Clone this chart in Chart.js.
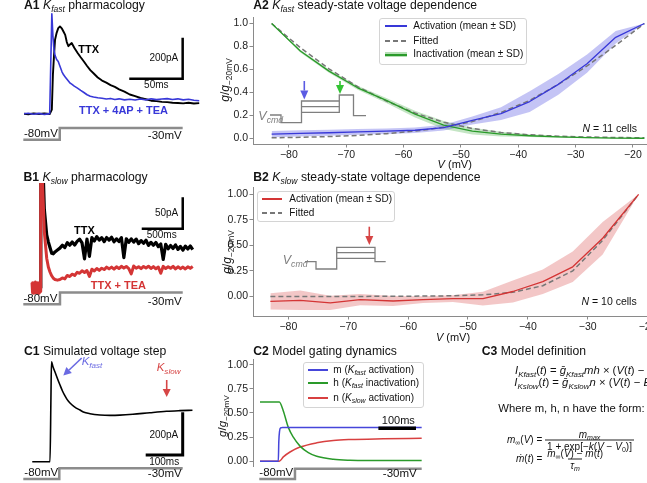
<!DOCTYPE html>
<html>
<head>
<meta charset="utf-8">
<title>Kfast / Kslow currents</title>
<script src="https://cdn.jsdelivr.net/npm/chart.js@4.4.1/dist/chart.umd.min.js"></script>
<style>
  html, body { margin: 0; padding: 0; background: #fff; overflow: hidden; }
  body { position: relative; width: 647px; height: 483px; font-family: "Liberation Sans", Arial, sans-serif; color: #111; }
  canvas { position: absolute; }
  .t { position: absolute; white-space: nowrap; line-height: 1; }
  sub { font-size: 70%; vertical-align: -0.32em; line-height: 0; }
  .box { position: absolute; box-sizing: border-box; border: 1px solid #d4d4d4; border-radius: 3px; background: rgba(255,255,255,0.85); }
  .ln { position: absolute; }
  .fr { display: inline-flex; flex-direction: column; align-items: center; vertical-align: middle; }
  .fr > span { padding: 0 2px; line-height: 1.1; }
  .fr > span + span { border-top: 0.8px solid #222; }
</style>
</head>
<body>
<script>
// ---------- data ----------

// A1: Kfast pharmacology, time (ms) / current (pA)
const a1Time  = [1, 5, 10, 15, 20, 25, 27, 28, 29, 30, 31.5, 33, 34.6, 36.5, 38, 39.5, 41, 42.5, 44, 45.6, 48, 51, 54, 57, 60, 63, 66, 70, 74, 78, 82, 86, 90, 95, 100, 105, 110, 115, 120, 125, 130, 135, 140, 145, 150, 155, 160, 165];
const a1TTX   = [0, -2, 2, -1, 2, -1, 20, 190, 280, 361, 395, 418, 426, 415, 400, 385, 350, 330, 338, 345, 322, 298, 276, 255, 233, 213, 198, 177, 162, 152, 140, 131, 119, 108, 94, 86, 77, 71, 64, 62, 58, 57, 54, 53, 51, 54, 50, 52];
const a1Block = [0, 3, -2, 2, -3, 1, 488, 380, 312, 285, 265, 255, 232, 205, 190, 180, 170, 160, 150, 145, 135, 125, 114, 104, 93, 86, 82, 78, 76, 72, 75, 70, 73, 68, 71, 67, 72, 68, 73, 69, 72, 74, 70, 73, 68, 71, 66, 64];
const a1StepTime = [0.3, 34.4, 34.4, 149.5];

// B1: Kslow pharmacology
const b1PreTime = [110, 117, 124, 131, 138, 145, 152, 159, 166, 173, 180, 187, 194, 201, 208, 214];
const b1PreRed  = [8, -8, 7, -9, 8, -7, 9, -8, 7, -8, 8, -9, 7, -8, 8, -6];
const b1Time = [216, 217, 240, 260, 289, 309, 329, 350, 370, 390, 420, 450,
  480, 510, 540, 570, 600, 630, 660, 690, 720, 750, 780, 810, 840, 870, 900, 930, 960, 990,
  1020, 1050, 1080, 1110, 1140, 1170, 1200, 1230, 1260, 1290, 1320, 1350, 1380, 1410, 1440, 1470,
  1500, 1530, 1560, 1590, 1620, 1650, 1680, 1710, 1740, 1770, 1800, 1830, 1860, 1890, 1920, 1950,
  1980, 2010, 2040, 2070];
const b1TTX = [0, 330, 210, 125, 84, 73, 64, 55, 54, 57, 60, 63,
  67.7, 63.9, 71.6, 67.7, 72.8, 67.9, 73.8, 77.4, 71.3, 46, 77.4, 50, 79.8, 74.3, 81.4, 75.7, 79.8, 73.4,
  79.9, 75.7, 80.3, 73.2, 77.8, 73.6, 79.7, 48, 77.9, 72.2, 77.8, 72.5, 77.4, 70.2, 75, 70.8,
  75.6, 67.4, 72.2, 67.5, 72.1, 65.4, 69.6, 45, 69.2, 61.9, 67.3, 62.5, 68.1, 61, 65.8, 59.7,
  66.3, 61.5, 66.4, 60.5];
const b1Red = [0, 330, 160, 89, 47, 33, 25, 19, 15, 13, 12, 13,
  15.5, 14, 19.5, 17.8, 21.5, 19.5, 24.5, 23, 27, 24.3, 27.3, 18, 29.5, 26.7, 30.5, 27.6, 31, 28.9,
  32.7, 30, 32.8, 29.6, 33.3, 30.5, 34.1, 31.2, 33.8, 30.4, 22, 34.5, 31, 33.4, 30.4, 33.8,
  31.3, 34.2, 30.7, 33.6, 30.1, 33, 23, 34, 30.5, 33.4, 30.9, 33.9, 29.9, 33.3, 30.3, 32.8,
  29.8, 33.3, 30.8, 33.8];
const b1StepTime = [3.7, 451, 451, 1948];

// C1: simulated voltage step
const c1Time    = [25, 73, 75.5, 77, 81, 86.5, 93, 100, 107, 113.5, 119, 127, 140, 154, 163, 181, 208, 235, 262, 297, 343, 388, 424, 458];
const c1Current = [0, 0, 300, 468, 445, 420, 390, 359, 330, 308, 292, 275, 256, 242, 233, 225, 219, 217, 218, 222, 229.5, 236, 239, 241];
const c1StepTime = [0.8, 98.1, 98.1, 431.6];

const stepVolt = [-80, -80, -30, -30];

// A2: Kfast steady-state, V (mV) / g/g-20mV
const vA2 = [-83, -78, -73, -68, -63, -58, -53, -48, -43, -38, -33, -28, -23, -18];
const a2ActMean   = [0.036, 0.042, 0.048, 0.055, 0.062, 0.07, 0.092, 0.155, 0.215, 0.32, 0.47, 0.65, 0.88, 1.0];
const a2ActSD     = [0.028, 0.027, 0.026, 0.025, 0.024, 0.024, 0.025, 0.035, 0.055, 0.09, 0.09, 0.08, 0.055, 0.0];
const a2ActFit    = [0.004, 0.008, 0.015, 0.025, 0.04, 0.062, 0.095, 0.145, 0.225, 0.33, 0.47, 0.63, 0.81, 1.0];
const a2InactMean = [1.0, 0.76, 0.585, 0.44, 0.33, 0.21, 0.115, 0.062, 0.036, 0.022, 0.012, 0.006, 0.002, 0.0];
const a2InactSD   = [0.0, 0.012, 0.015, 0.018, 0.022, 0.03, 0.035, 0.03, 0.02, 0.012, 0.008, 0.005, 0.003, 0.0];
const a2InactFit  = [1.0, 0.79, 0.605, 0.45, 0.325, 0.22, 0.14, 0.085, 0.05, 0.03, 0.018, 0.011, 0.007, 0.004];

// B2: Kslow steady-state
const vB2 = [-83, -78, -73, -68, -62.5, -57.5, -52.5, -47.5, -42.5, -37.5, -32.5, -27.5, -21.5];
const b2Mean = [-0.048, -0.038, -0.064, -0.032, -0.045, -0.032, -0.022, -0.022, 0.048, 0.144, 0.29, 0.57, 1.0];
const b2SD   = [0.08, 0.095, 0.07, 0.055, 0.05, 0.033, 0.033, 0.067, 0.107, 0.12, 0.15, 0.16, 0.0];
const b2Fit  = [0, 0, 0, 0, 0.001, 0.003, 0.006, 0.015, 0.04, 0.105, 0.25, 0.55, 1.0];

// C2: model gating variables, time (ms)
const c2mTime = [0, 48.7, 50, 52, 55, 60, 430];
const c2m     = [0, 0, 0.2, 0.31, 0.345, 0.35, 0.35];
const c2hTime = [0, 51.3, 62, 75.3, 88.6, 106.4, 128.5, 150.8, 195, 239.4, 300, 430];
const c2h     = [0.612, 0.612, 0.52, 0.35, 0.248, 0.156, 0.089, 0.051, 0.02, 0.01, 0.007, 0.006];
const c2nTime = [0, 51.3, 62, 79.8, 106.4, 150.8, 195, 239.4, 328, 430];
const c2n     = [0, 0, 0.044, 0.095, 0.146, 0.19, 0.214, 0.224, 0.232, 0.238];
const c2StepTime = [-1.9, 93, 93, 430];

// tick labels
const vTicks = [-80, -70, -60, -50, -40, -30, -20];
const a2YTicks = [0, 0.2, 0.4, 0.6, 0.8, 1.0];
const qTicks = [0, 0.25, 0.5, 0.75, 1.0];

// ---------- helpers ----------
const FONT = '"Liberation Sans", Arial, sans-serif';
Chart.defaults.font.family = FONT;
Chart.defaults.color = '#222';

const BLUE = '#3838d8', GREEN = '#2a9a2a', RED = '#d43535', GREY = '#8c8c8c', SPINE = '#8a8a8a';

const pts = (xs, ys) => xs.map((x, i) => ({x: x, y: ys[i]}));

function box(left, top, w, h) {
  const c = document.createElement('canvas');
  c.width = w; c.height = h;
  c.style.left = left + 'px'; c.style.top = top + 'px';
  document.body.appendChild(c);
  return c;
}

// axis range from one reference value, its pixel row and pixels per unit
function vRange(ref, refPx, perUnit, top, bottom) {
  return {min: ref - (bottom - refPx) / perUnit, max: ref + (refPx - top) / perUnit};
}

const minus = (v, d) => (v < 0 ? '\u2212' : '') + Math.abs(v).toFixed(d);

// black scale bar drawn in data units
const scaleBar = {
  id: 'scaleBar',
  afterDatasetsDraw(chart, args, o) {
    if (!o || o.x === undefined) return;
    const {ctx, scales: {x, y}} = chart;
    ctx.save();
    ctx.strokeStyle = '#000';
    ctx.lineWidth = o.width;
    ctx.lineJoin = 'miter';
    ctx.beginPath();
    ctx.moveTo(x.getPixelForValue(o.x - o.dx), y.getPixelForValue(o.y));
    ctx.lineTo(x.getPixelForValue(o.x), y.getPixelForValue(o.y));
    if (o.dy) ctx.lineTo(x.getPixelForValue(o.x), y.getPixelForValue(o.y + o.dy));
    ctx.stroke();
    ctx.restore();
  }
};

function line(data, color, w, extra) {
  return Object.assign({data: data, borderColor: color, borderWidth: w, pointRadius: 0, fill: false, order: 0, borderJoinStyle: 'round'}, extra || {});
}
function dashed(data) {
  return {data: data, borderColor: '#777', borderWidth: 1.5, borderDash: [5, 3], pointRadius: 0, fill: false, order: 1};
}
function band(xs, mean, sd, color) {
  return [
    {data: pts(xs, mean.map((m, i) => m - sd[i])), borderWidth: 0, pointRadius: 0, fill: false, order: 2},
    {data: pts(xs, mean.map((m, i) => m + sd[i])), borderWidth: 0, pointRadius: 0, fill: '-1', backgroundColor: color, order: 2}
  ];
}
function step(times, yAxis) {
  return {data: pts(times, stepVolt), yAxisID: yAxis, borderColor: GREY, borderWidth: 2.5, pointRadius: 0, fill: false, borderJoinStyle: 'miter', order: 5, clip: false};
}

function baseOptions(pad, bar) {
  return {
    responsive: false, animation: false, devicePixelRatio: 1,
    layout: {padding: Object.assign({top: 0, right: 0, bottom: 0, left: 0}, pad || {})},
    elements: {point: {radius: 0}},
    plugins: {legend: {display: false}, tooltip: {enabled: false}, scaleBar: bar || {}}
  };
}

function hidden(r) { return {type: 'linear', display: false, min: r.min, max: r.max}; }

function shownY(r, ticks, dec) {
  return {
    type: 'linear', min: r.min, max: r.max,
    afterFit: s => { s.width = 40; },
    afterBuildTicks: s => { s.ticks = ticks.map(v => ({value: v})); },
    ticks: {font: {size: 10.5}, color: '#222', padding: 1.5, callback: v => minus(v, dec)},
    grid: {drawOnChartArea: false, color: SPINE, tickLength: 3.5},
    border: {display: true, color: SPINE, width: 1}
  };
}
function shownX(r, ticks) {
  return {
    type: 'linear', min: r.min, max: r.max,
    afterFit: s => { s.height = 30; },
    afterBuildTicks: s => { s.ticks = ticks.map(v => ({value: v})); },
    ticks: {font: {size: 10.5}, color: '#222', padding: 1.5, maxRotation: 0, autoSkip: false, callback: v => minus(v, 0)},
    grid: {drawOnChartArea: false, color: SPINE, tickLength: 3.5},
    border: {display: true, color: SPINE, width: 1}
  };
}

function traceChart(canvas, sets, xr, yr, vr, bar) {
  const opt = baseOptions({}, bar);
  opt.scales = {x: hidden(xr), y: hidden(yr), yv: hidden(vr)};
  return new Chart(canvas, {type: 'line', data: {datasets: sets}, options: opt, plugins: [scaleBar]});
}

// ---------- A1 ----------
traceChart(box(23, 8, 180, 136), [
  line(pts(a1Time, a1Block), BLUE, 1.6),
  line(pts(a1Time, a1TTX), '#000', 1.9),
  step(a1StepTime, 'yv')
], {min: 0, max: 180 / 1.068}, vRange(0, 113.8, 0.205, 8, 144), vRange(-80, 139.7, 0.234, 8, 144),
  {x: 149.5, y: 171, dx: 50, dy: 200, width: 2.5});

// ---------- B1 ----------
traceChart(box(23, 183, 180, 127), [
  line(pts(b1PreTime.concat(b1Time), b1PreRed.concat(b1Red)), RED, 3),
  line(pts(b1Time, b1TTX), '#000', 3.2),
  step(b1StepTime, 'yv')
], {min: 0, max: 180 / 0.082}, vRange(0, 287.7, 0.628, 183, 310), vRange(-80, 304.2, 0.234, 183, 310),
  {x: 1948, y: 94, dx: 500, dy: 50, width: 2.5});

// ---------- C1 ----------
traceChart(box(23, 355, 180, 128), [
  line(pts(c1Time, c1Current), '#000', 1.6, {cubicInterpolationMode: 'monotone'}),
  step(c1StepTime, 'yv')
], {min: 0, max: 180 / 0.37}, vRange(0, 461.7, 0.2135, 355, 483), vRange(-80, 479, 0.216, 355, 483),
  {x: 431.6, y: 31.4, dx: 100, dy: 200, width: 3});

// ---------- A2 ----------
(function () {
  const opt = baseOptions({top: 5.5});
  opt.scales = {x: shownX({min: -86.25, max: -14.75}, vTicks), y: shownY({min: -0.05, max: 1.05}, a2YTicks, 1)};
  new Chart(box(213, 10, 450, 164), {type: 'line', options: opt, data: {datasets: [
    line(pts(vA2, a2ActMean), BLUE, 1.3),
    line(pts(vA2, a2InactMean), GREEN, 1.3),
    dashed(pts(vA2, a2ActFit)),
    dashed(pts(vA2, a2InactFit)),
    ...band(vA2, a2ActMean, a2ActSD, 'rgba(70,70,225,0.32)'),
    ...band(vA2, a2InactMean, a2InactSD, 'rgba(70,175,70,0.32)')
  ]}});
})();

// ---------- B2 ----------
(function () {
  const opt = baseOptions({top: 5.4});
  opt.scales = {x: shownX({min: -85.9, max: -18.4}, vTicks), y: shownY({min: -0.192, max: 1.064}, qTicks, 2)};
  new Chart(box(213, 180, 445, 166), {type: 'line', options: opt, data: {datasets: [
    line(pts(vB2, b2Mean), RED, 1.3),
    dashed(pts(vB2, b2Fit)),
    ...band(vB2, b2Mean, b2SD, 'rgba(215,70,70,0.3)')
  ]}});
})();

// ---------- C2 ----------
(function () {
  const opt = baseOptions({top: 6, bottom: 17}, {x: 414.9, y: 0.34, dx: 100, dy: 0, width: 3.5});
  opt.scales = {
    x: hidden({min: -7 / 0.376, max: 170 / 0.376}),
    y: shownY({min: -0.05, max: 1.05}, qTicks, 2),
    yv: hidden(vRange(-80, 479.2, 0.21, 358, 466))
  };
  new Chart(box(213, 352, 217, 131), {type: 'line', options: opt, plugins: [scaleBar], data: {datasets: [
    line(pts(c2mTime, c2m), '#4646da', 1.5, {cubicInterpolationMode: 'monotone'}),
    line(pts(c2hTime, c2h), GREEN, 1.5, {cubicInterpolationMode: 'monotone'}),
    line(pts(c2nTime, c2n), '#d84040', 1.5, {cubicInterpolationMode: 'monotone'}),
    step(c2StepTime, 'yv')
  ]}});
})();

// ---------- insets and arrows ----------
const ovc = box(0, 0, 647, 483);
const ov = ovc.getContext('2d');
function path(p, color, w) {
  ov.strokeStyle = color; ov.lineWidth = w; ov.lineJoin = 'miter';
  ov.beginPath();
  p.forEach(([x, y], i) => i ? ov.lineTo(x, y) : ov.moveTo(x, y));
  ov.stroke();
}
function arrow(x1, y1, x2, y2, color, len, half) {
  const a = Math.atan2(y2 - y1, x2 - x1);
  const bx = x2 - len * Math.cos(a), by = y2 - len * Math.sin(a);
  path([[x1, y1], [bx, by]], color, 1.6);
  ov.fillStyle = color;
  ov.beginPath();
  ov.moveTo(x2, y2);
  ov.lineTo(bx + half * Math.sin(a), by - half * Math.cos(a));
  ov.lineTo(bx - half * Math.sin(a), by + half * Math.cos(a));
  ov.closePath();
  ov.fill();
}
// A2 protocol
path([[270, 115], [281, 115], [281, 122.7], [301.5, 122.7], [301.5, 101], [339.3, 101]], '#7f7f7f', 1.3);
path([[301.5, 106.7], [339.3, 106.7]], '#7f7f7f', 1.3);
path([[301.5, 112.3], [339.3, 112.3], [339.3, 95], [353.5, 95], [353.5, 115.7], [366, 115.7]], '#7f7f7f', 1.3);
arrow(304.3, 81, 304.3, 99.5, '#5b5be3', 9, 4);
arrow(340, 81, 340, 94, '#33c433', 9, 4);
// B2 protocol
path([[305, 261.7], [316, 261.7], [316, 269], [336.7, 269], [336.7, 247.3], [375, 247.3], [375, 261.7], [385.7, 261.7]], '#7f7f7f', 1.3);
path([[336.7, 252.7], [375, 252.7]], '#7f7f7f', 1.3);
path([[336.7, 258.3], [375, 258.3]], '#7f7f7f', 1.3);
arrow(369.3, 226.7, 369.3, 245, '#d64545', 9, 4);
// C1 arrows
arrow(81.7, 358, 63.3, 375.5, '#6a6ae2', 8, 4);
arrow(166.7, 380, 166.7, 397, '#d64545', 8, 4);

// ---------- text ----------
function T(html, x, y, size, o) {
  o = o || {};
  const d = document.createElement('div');
  d.className = 't';
  d.innerHTML = html;
  const tx = o.a === 'r' ? '-100%' : o.a === 'c' ? '-50%' : '0';
  d.style.cssText = 'left:' + x + 'px;top:' + y + 'px;font-size:' + size + 'px;color:' + (o.c || '#111') +
    ';transform:translate(' + tx + ',-50%)' + (o.rot ? ' rotate(-90deg)' : '') + (o.css ? ';' + o.css : '');
  document.body.appendChild(d);
  return d;
}
function seg(x1, x2, y, h, css) {
  const d = document.createElement('div');
  d.className = 'ln';
  d.style.cssText = 'left:' + x1 + 'px;width:' + (x2 - x1) + 'px;top:' + Math.round(y - h / 2) + 'px;height:' + h + 'px;background:' + css;
  document.body.appendChild(d);
}
function frame(x, y, w, h) {
  const d = document.createElement('div');
  d.className = 'box';
  d.style.cssText = 'left:' + x + 'px;top:' + y + 'px;width:' + w + 'px;height:' + h + 'px';
  document.body.appendChild(d);
}
const DASH = 'repeating-linear-gradient(90deg,#777 0 5px,transparent 5px 8px)';
const Kf = '<i>K</i><sub><i>fast</i></sub>', Ks = '<i>K</i><sub><i>slow</i></sub>';
const gLab = '<i>g</i>/<i>g</i><sub>\u221220mV</sub>';

// titles
T('<b>A1</b> ' + Kf + ' pharmacology', 24, 5, 12.2);
T('<b>B1</b> ' + Ks + ' pharmacology', 23.5, 176.5, 12.2);
T('<b>C1</b> Simulated voltage step', 24, 350.5, 12.2);
T('<b>A2</b> ' + Kf + ' steady-state voltage dependence', 253.3, 5, 12.2);
T('<b>B2</b> ' + Ks + ' steady-state voltage dependence', 253.3, 176.5, 12.2);
T('<b>C2</b> Model gating dynamics', 253.3, 350.5, 12.2);
T('<b>C3</b> Model definition', 481.7, 350.5, 12.2);

// A1
T('<b>TTX</b>', 78.3, 48.8, 11, {c: '#000'});
T('<b>TTX + 4AP + TEA</b>', 79, 110, 11, {c: BLUE});
T('200pA', 178.3, 58.3, 10, {a: 'r'});
T('50ms', 156.3, 85, 10, {a: 'c'});
T('-80mV', 24, 134, 11.5);
T('-30mV', 181.7, 135.8, 11.5, {a: 'r'});
// B1
T('<b>TTX</b>', 74, 230, 11, {c: '#000'});
T('<b>TTX + TEA</b>', 90.7, 284.5, 11, {c: RED});
T('50pA', 178.3, 213.3, 10, {a: 'r'});
T('500ms', 161.7, 235.3, 10, {a: 'c'});
T('-80mV', 23.5, 299, 11.5);
T('-30mV', 181.7, 301.7, 11.5, {a: 'r'});
// C1
T(Kf, 81.7, 362, 11.5, {c: '#6a6ae2'});
T(Ks, 156.7, 367.5, 11.5, {c: '#d64545'});
T('200pA', 178.3, 434.5, 10, {a: 'r'});
T('100ms', 164.2, 462, 10, {a: 'c'});
T('-80mV', 24.3, 473.3, 11.5);
T('-30mV', 181.7, 474, 11.5, {a: 'r'});

// A2
T(gLab, 225, 80, 12, {a: 'c', rot: true});
T('<i>V</i> (mV)', 454.7, 164, 11, {a: 'c'});
T('<i>N</i> = 11 cells', 637, 128.3, 10.5, {a: 'r'});
T('<i>V</i><sub><i>cmd</i></sub>', 258.3, 116, 12.5, {c: '#7f7f7f'});
frame(379.3, 18.3, 148, 46.7);
seg(385, 406.7, 26, 1.5, BLUE);
seg(385, 406.7, 40.7, 1.5, DASH);
seg(385, 406.7, 54.3, 4.5, 'rgba(70,175,70,0.4)');
seg(385, 406.7, 54.3, 1.5, GREEN);
T('Activation (mean \u00b1 SD)', 413.3, 26, 10);
T('Fitted', 413.3, 40.7, 10);
T('Inactivation (mean \u00b1 SD)', 413.3, 54.3, 10);

// B2
T(gLab, 226.5, 252, 12, {a: 'c', rot: true});
T('<i>V</i> (mV)', 453, 337, 11, {a: 'c'});
T('<i>N</i> = 10 cells', 636.7, 301, 10.5, {a: 'r'});
T('<i>V</i><sub><i>cmd</i></sub>', 282.7, 260, 12.5, {c: '#7f7f7f'});
frame(257.3, 191, 137.7, 30.7);
seg(261.7, 281.7, 199, 1.5, RED);
seg(261.7, 281.7, 212.7, 1.5, DASH);
T('Activation (mean \u00b1 SD)', 289.3, 199, 10);
T('Fitted', 289.3, 212.7, 10);

// C2
T(gLab, 222.5, 416, 11.5, {a: 'c', rot: true});
frame(303, 362, 121, 45.7);
seg(308.3, 328.3, 370, 2, '#4646da');
seg(308.3, 328.3, 383.3, 2, GREEN);
seg(308.3, 328.3, 397.7, 2, '#d84040');
T('m (' + Kf + ' activation)', 333.3, 370, 10);
T('h (' + Kf + ' inactivation)', 333.3, 383.3, 10);
T('n (' + Ks + ' activation)', 333.3, 397.7, 10);
T('100ms', 398.3, 420, 11, {a: 'c'});
T('-80mV', 259.3, 473.3, 11.5);
T('-30mV', 416.7, 474, 11.5, {a: 'r'});

// C3
T('<i>I</i><sub><i>Kfast</i></sub>(<i>t</i>) = <i>g\u0304</i><sub><i>Kfast</i></sub><i>mh</i> \u00d7 (<i>V</i>(<i>t</i>) \u2212 <i>E</i><sub><i>K</i></sub>)', 515, 371, 11.3);
T('<i>I</i><sub><i>Kslow</i></sub>(<i>t</i>) = <i>g\u0304</i><sub><i>Kslow</i></sub><i>n</i> \u00d7 (<i>V</i>(<i>t</i>) \u2212 <i>E</i><sub><i>K</i></sub>)', 514.3, 383.3, 11.3);
T('Where m, h, n have the form:', 498.3, 409.3, 11.3);
T('<i>m</i><sub>\u221e</sub>(<i>V</i>) = <span class="fr"><span><i>m</i><sub><i>max</i></sub></span><span>1 + exp[\u2212<i>k</i>(<i>V</i> \u2212 <i>V</i><sub>0</sub>)]</span></span>', 507, 440, 10);
T('<i>m\u0307</i>(<i>t</i>) = <span class="fr"><span><i>m</i><sub>\u221e</sub>(<i>V</i>) \u2212 <i>m</i>(<i>t</i>)</span><span><i>\u03c4</i><sub><i>m</i></sub></span></span>', 516, 459, 10);
</script>
</body>
</html>
